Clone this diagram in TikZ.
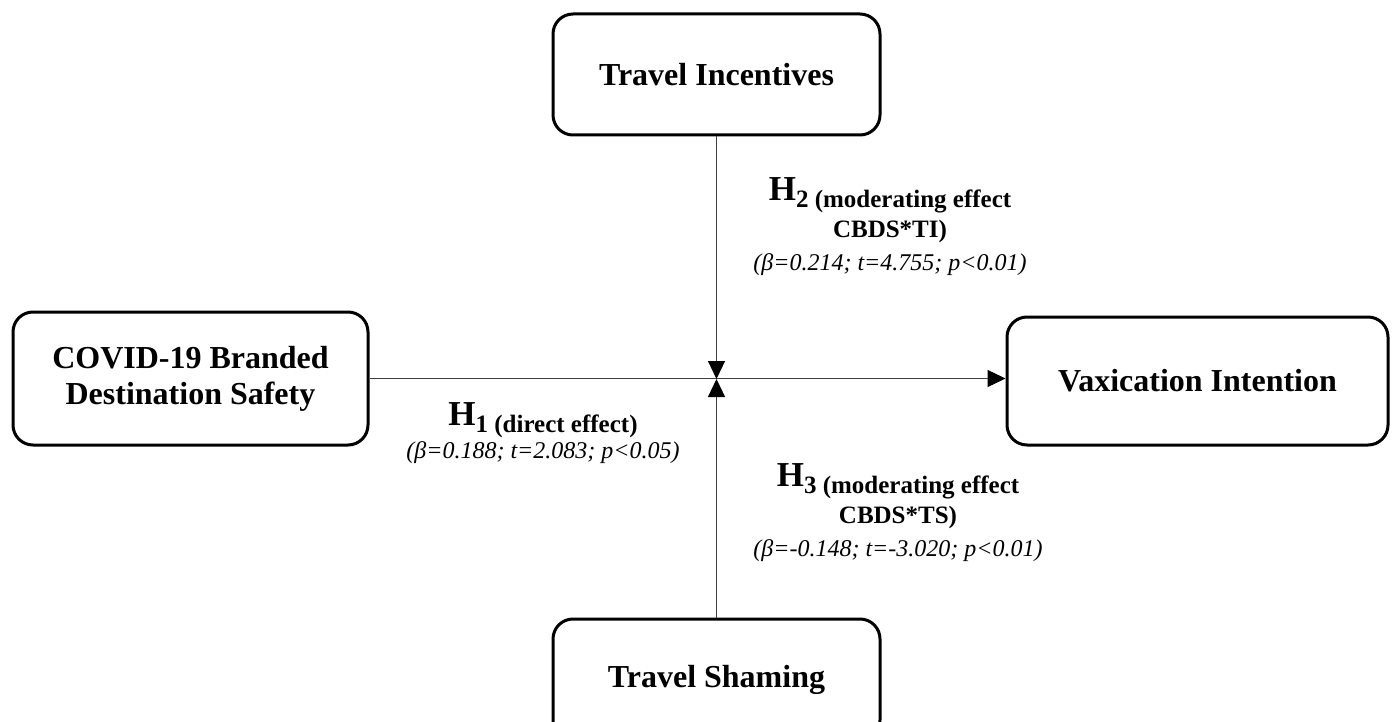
\documentclass[tikz,border=0pt]{standalone}
\usepackage{fontspec}
\setmainfont{Liberation Serif}
\usetikzlibrary{arrows.meta}
\newcommand{\hypo}[2]{{\fontsize{35}{35}\selectfont H}\raisebox{-7pt}{\fontsize{25}{33}\selectfont #1 #2}}

\begin{document}
\begin{tikzpicture}[x=1pt,y=-1pt]
\tikzstyle{every node}=[inner sep=0pt]
\tikzstyle{var}=[draw, line width=3pt, rounded corners=20pt, align=center, font=\bfseries\fontsize{32}{36}\selectfont]
\tikzstyle{hyp}=[anchor=north, align=center, font=\fontsize{24}{33}\selectfont]
\tikzstyle{link}=[line width=1.2pt, black!75, -{Triangle[length=18pt,width=17pt,color=black]}]
\useasboundingbox (0,0) rectangle (1392,722);
\draw (716.5,74.5) node (ti) [var, minimum width=327pt, minimum height=121pt] {Travel Incentives};
\draw (190.5,378.5) node (cbds) [var, minimum width=355pt, minimum height=133pt] {COVID-19 Branded\\Destination Safety};
\draw (1197.5,381) node (vi) [var, minimum width=381pt, minimum height=128pt] {Vaxication Intention};
\draw (716.5,679.5) node (ts) [var, minimum width=327pt, minimum height=121pt] {Travel Shaming};
\coordinate (x) at (716.5,379);
\draw [link] (cbds.east) -- (cbds.east -| vi.west);
\draw [link] (ti) -- (x);
\draw [link] (ts) -- (x);
\draw (543,402) node (h1) [hyp] {\textbf{\hypo{1}{(direct effect)}}\\ \textit{(β=0.188; t=2.083; p<0.05)}};
\draw (890,177) node (h2) [hyp] {\textbf{\hypo{2}{(moderating effect}}\\[4pt] {\bfseries\fontsize{25}{33}\selectfont CBDS*TI)}\\ \textit{(β=0.214; t=4.755; p<0.01)}};
\draw (898,463) node (h3) [hyp] {\textbf{\hypo{3}{(moderating effect}}\\[4pt] {\bfseries\fontsize{25}{33}\selectfont CBDS*TS)}\\ \textit{(β=-0.148; t=-3.020; p<0.01)}};
\end{tikzpicture}
\end{document}
